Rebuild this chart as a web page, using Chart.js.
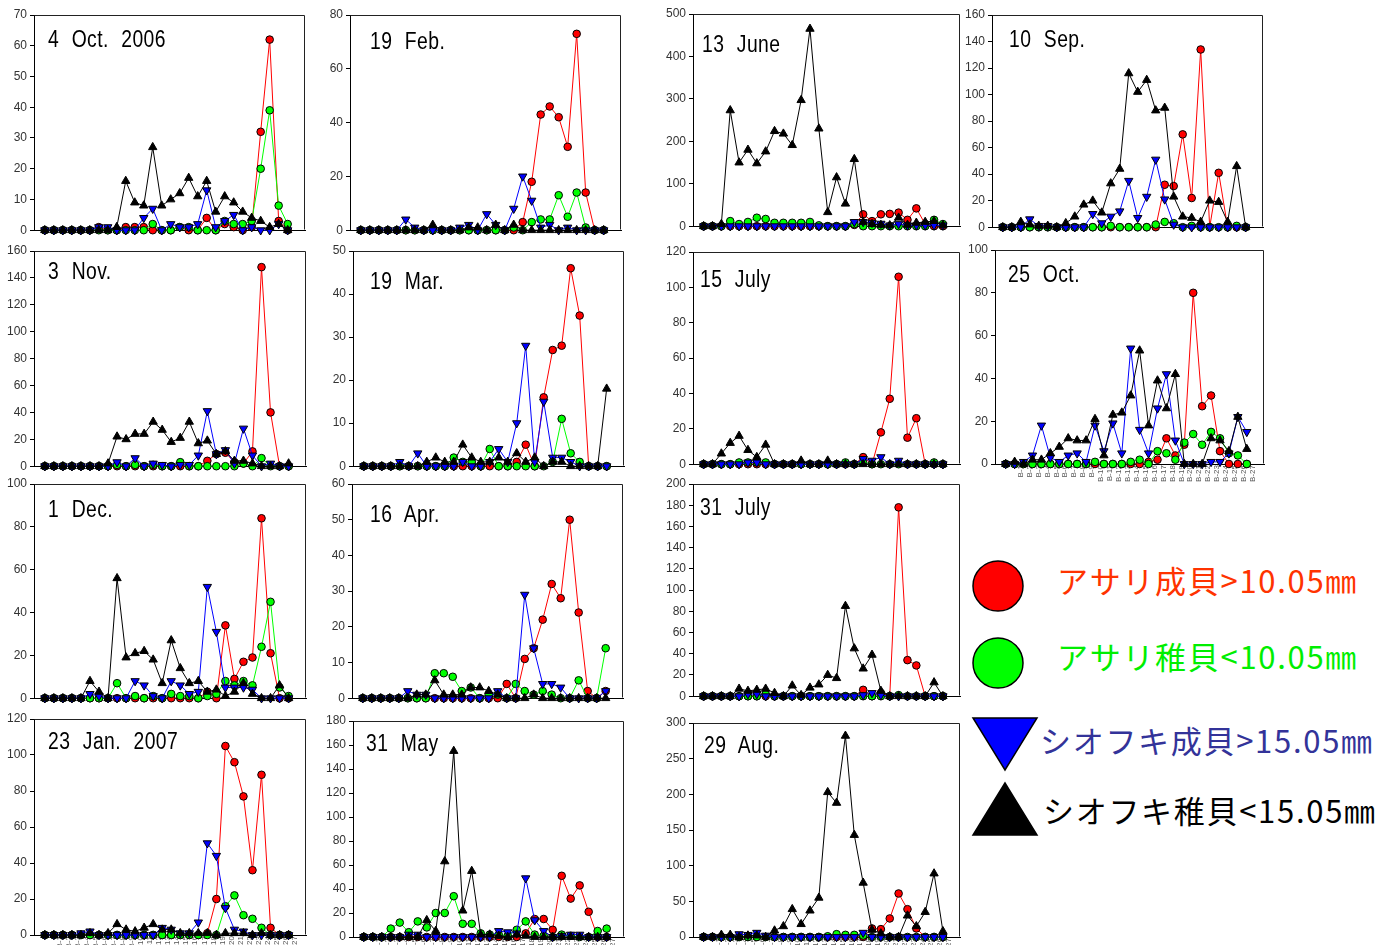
<!DOCTYPE html>
<html>
<head>
<meta charset="utf-8">
<script src="https://cdn.jsdelivr.net/npm/chart.js@4.4.1/dist/chart.umd.min.js"></script>
<style>
html,body{margin:0;padding:0;background:#fff;width:1395px;height:945px;overflow:hidden;position:relative;}
canvas{position:absolute;}
.ttl{position:absolute;font-family:"Liberation Sans",sans-serif;font-size:23px;line-height:23px;color:#000;white-space:pre;letter-spacing:0.5px;word-spacing:8px;transform:scaleX(0.84);transform-origin:0 0;}
.lg{position:absolute;font-family:"Noto Sans CJK JP",sans-serif;font-size:31px;line-height:31px;white-space:pre;letter-spacing:1.7px;}
#shapes{position:absolute;left:0;top:0;}
</style>
</head>
<body>
<svg id="shapes" width="1395" height="945">
  <circle cx="998" cy="586" r="25" fill="#FF0000" stroke="#000" stroke-width="1.5"/>
  <circle cx="998" cy="663" r="25" fill="#00FF00" stroke="#000" stroke-width="1.5"/>
  <polygon points="973,718 1037,718 1005,770" fill="#0000FF" stroke="#000" stroke-width="1.5"/>
  <polygon points="1005,783 973,835 1037,835" fill="#000" stroke="#000" stroke-width="1.5"/>
</svg>
<div class="lg" style="left:1057px;top:564px;color:#FF3300;">アサリ成貝&gt;10.05㎜</div>
<div class="lg" style="left:1057px;top:640px;color:#00EE00;">アサリ稚貝&lt;10.05㎜</div>
<div class="lg" style="left:1040px;top:724px;color:#333399;">シオフキ成貝&gt;15.05㎜</div>
<div class="lg" style="left:1043px;top:794px;color:#000;">シオフキ稚貝&lt;15.05㎜</div>
<script>
// station labels (index 0 is the extra first point)
const stations = ['', 'B-1','B-2','B-3','B-4','B-5','B-6','B-7','B-8','B-9','B-10','B-11','B-12','B-13','B-14','B-15','B-16','B-17','B-18','B-19','B-20','B-21','B-22','B-23','B-24','B-25','B-26','B-27'];

// series names
const seriesNames = ['アサリ成貝>10.05㎜', 'アサリ稚貝<10.05㎜', 'シオフキ成貝>15.05㎜', 'シオフキ稚貝<15.05㎜'];

// 4 Oct. 2006
const oct06_asariAdult = [0,0,0,0,0,0,1,0,0,1,1,1,0,0,0,1,0,0,4,0,2,1,0,1,32,62,3,0];
const oct06_asariJuv   = [0,0,0,0,0,0,0,0,0,0,0,0,2,0,0,1,1,0,0,0,3,2,2,3,20,39,8,2];
const oct06_shioAdult  = [0,0,0,0,0,0,1,1,0,0,0,4,7,0,2,1,1,2,13,1,3,5,0,1,0,0,2,0];
const oct06_shioJuv    = [0,0,0,0,0,0,0,0,1,16,9,8,27,8,10,12,17,11,16,6,11,9,6,4,3,1,2,0];
// 3 Nov.
const nov06_asariAdult = [0,0,0,0,0,0,0,0,0,0,0,0,0,0,0,0,0,0,4,9,10,3,2,11,148,40,0,0];
const nov06_asariJuv   = [0,0,0,0,0,0,0,0,1,0,1,0,1,0,0,3,0,0,0,0,0,0,2,0,6,0,0,0];
const nov06_shioAdult  = [0,0,0,0,0,0,0,0,3,0,6,0,2,1,0,1,1,8,41,9,12,2,28,8,0,2,0,0];
const nov06_shioJuv    = [0,0,0,0,0,0,0,2,22,20,24,24,33,27,18,21,33,17,19,9,11,4,4,2,0,0,0,2];
// 1 Dec.
const dec06_asariAdult = [0,0,0,0,0,0,0,0,0,0,0,0,0,0,0,0,0,0,3,0,34,9,17,19,84,21,0,0];
const dec06_asariJuv   = [0,0,0,0,0,0,0,0,7,0,1,0,1,0,2,1,1,0,1,2,8,6,8,6,24,45,5,1];
const dec06_shioAdult  = [0,0,0,0,0,2,1,0,0,0,8,6,1,0,8,6,2,3,52,31,5,5,5,4,0,0,0,0];
const dec06_shioJuv    = [0,0,0,0,0,8,3,0,56,19,21,22,18,7,27,14,7,8,3,4,1,3,7,2,0,0,6,0];
// 23 Jan. 2007
const jan07_asariAdult = [0,0,0,0,0,0,0,0,0,0,0,0,0,0,0,0,0,0,1,20,105,96,77,36,89,4,0,0];
const jan07_asariJuv   = [0,0,0,0,0,0,0,0,0,0,0,0,0,0,0,0,0,0,0,0,16,22,11,9,4,0,0,0];
const jan07_shioAdult  = [0,0,0,0,1,2,0,0,0,0,0,0,0,4,3,1,1,7,51,44,15,3,2,0,0,0,0,0];
const jan07_shioJuv    = [0,0,0,0,0,1,0,1,6,3,2,4,6,3,3,1,1,1,1,0,1,1,1,0,1,0,0,0];
// 19 Feb.
const feb07_asariAdult = [0,0,0,0,0,0,0,0,0,0,0,0,0,0,0,0,0,0,3,18,43,46,42,31,73,14,0,0];
const feb07_asariJuv   = [0,0,0,0,0,0,0,0,0,0,0,0,0,0,0,0,0,1,0,3,4,4,13,5,14,1,0,0];
const feb07_shioAdult  = [0,0,0,0,0,4,1,0,0,0,0,1,2,0,6,2,0,8,20,11,1,2,0,1,0,0,0,0];
const feb07_shioJuv    = [0,0,0,0,0,0,0,0,2,0,0,0,1,1,0,2,0,2,0,0,0,0,0,0,0,0,0,0];
// 19 Mar.
const mar07_asariAdult = [0,0,0,0,0,0,0,0,0,0,0,0,0,0,0,0,0,1,5,0,16,27,28,46,35,0,0,0];
const mar07_asariJuv   = [0,0,0,0,0,0,0,0,0,0,2,1,1,0,4,0,0,0,0,0,0,1,11,3,1,0,0,0];
const mar07_shioAdult  = [0,0,0,0,1,0,3,0,0,0,0,1,0,0,1,4,1,10,28,1,15,2,2,1,0,0,0,0];
const mar07_shioJuv    = [0,0,0,0,0,0,0,1,2,1,1,5,2,1,1,2,1,3,1,2,0,1,1,0,0,0,0,18];
// 16 Apr.
const apr07_asariAdult = [0,0,0,0,0,0,0,0,0,0,0,0,0,0,0,0,4,0,11,14,22,32,28,50,24,2,0,2];
const apr07_asariJuv   = [0,0,0,0,0,0,0,0,7,7,6,2,3,0,1,1,0,4,2,1,2,1,0,0,5,0,0,14];
const apr07_shioAdult  = [0,0,0,0,0,2,1,1,0,0,0,0,0,0,0,2,0,0,29,14,4,4,3,0,0,0,0,2];
const apr07_shioJuv    = [0,0,0,0,0,0,1,1,5,1,1,1,3,3,2,1,0,0,0,1,0,0,0,0,0,0,0,0];
// 31 May
const may07_asariAdult = [0,0,0,0,0,0,0,0,0,0,0,0,0,0,0,0,0,0,3,15,15,6,51,32,43,21,0,0];
const may07_asariJuv   = [0,0,0,7,12,4,13,8,20,20,34,11,11,3,2,2,1,6,13,2,1,0,2,1,0,0,5,7];
const may07_shioAdult  = [0,0,0,0,0,2,2,0,0,0,0,0,0,0,0,5,4,3,49,14,5,0,1,2,2,0,0,0];
const may07_shioJuv    = [0,0,0,0,0,0,0,14,5,63,155,22,55,2,2,1,0,2,1,0,0,0,0,0,0,0,0,0];
// 13 June
const jun07_asariAdult = [0,0,0,0,0,0,0,0,0,0,0,0,0,0,0,0,0,3,28,12,28,29,32,15,42,5,0,0];
const jun07_asariJuv   = [0,0,0,12,5,10,20,17,8,8,8,8,10,2,0,0,0,5,0,0,0,0,0,0,0,0,15,5];
const jun07_shioAdult  = [0,0,0,0,0,0,0,0,0,0,0,0,0,0,0,0,0,10,10,8,6,2,5,2,2,2,2,2];
const jun07_shioJuv    = [0,0,5,273,150,180,148,176,224,218,191,297,465,230,33,115,53,158,10,5,3,2,20,3,8,10,12,2];
// 15 July
const jul15_asariAdult = [0,0,0,0,0,0,0,0,0,0,0,0,0,0,0,0,0,0,4,0,18,37,106,15,26,0,0,0];
const jul15_asariJuv   = [0,0,0,0,1,1,1,1,0,0,0,0,0,0,0,0,1,0,1,0,0,0,0,0,0,0,1,0];
const jul15_shioAdult  = [0,0,0,0,0,1,1,0,0,0,0,0,0,0,0,0,0,0,3,2,4,0,2,0,0,0,0,0];
const jul15_shioJuv    = [0,0,6,12,16,8,4,11,0,0,0,2,0,0,2,0,0,0,0,0,0,0,0,0,0,0,0,0];
// 31 July
const jul31_asariAdult = [0,0,0,0,0,0,0,0,0,0,0,0,0,0,0,0,0,0,6,0,3,0,178,34,29,0,0,0];
const jul31_asariJuv   = [0,0,0,0,0,0,0,2,0,0,0,0,0,0,0,0,0,0,0,0,0,0,1,0,0,0,0,0];
const jul31_shioAdult  = [0,0,0,0,0,2,2,0,0,0,0,0,0,0,0,0,0,0,1,3,1,0,0,0,0,0,0,0];
const jul31_shioJuv    = [0,0,0,0,7,5,6,7,3,0,10,1,8,11,20,17,85,45,26,39,5,0,0,0,0,0,13,0];
// 29 Aug.
const aug07_asariAdult = [0,0,0,0,0,0,0,0,0,0,0,0,0,0,0,0,0,0,0,12,11,26,61,39,12,0,0,0];
const aug07_asariJuv   = [0,0,0,0,0,0,0,0,0,0,0,0,0,0,1,4,3,3,2,0,0,0,0,0,0,0,0,0];
const aug07_shioAdult  = [0,0,0,0,4,3,6,2,0,0,0,0,0,0,0,0,0,0,6,0,0,0,0,0,0,0,0,0];
const aug07_shioJuv    = [0,0,3,3,0,2,2,0,9,15,39,18,37,55,203,188,282,143,76,10,5,0,0,30,15,35,89,8];
// 10 Sep.
const sep07_asariAdult = [0,0,0,0,0,0,0,0,0,0,0,0,0,0,0,0,0,0,32,31,70,22,134,0,41,0,0,0];
const sep07_asariJuv   = [0,0,0,0,0,0,0,0,0,0,0,0,1,0,0,0,0,2,4,3,0,1,0,0,0,0,1,0];
const sep07_shioAdult  = [0,0,0,6,1,1,0,0,0,0,10,3,8,12,35,7,23,51,21,2,0,0,0,0,0,0,0,0];
const sep07_shioJuv    = [0,0,4,2,1,1,0,3,8,17,20,11,33,44,116,102,111,88,90,23,8,7,4,20,19,4,46,0];
// 25 Oct.
const oct07_asariAdult = [0,0,0,0,0,0,0,0,0,0,0,0,0,0,0,0,1,2,12,4,9,80,27,32,6,0,0,0];
const oct07_asariJuv   = [0,0,0,0,0,0,0,0,0,0,1,0,0,0,1,2,0,6,5,2,10,14,9,15,12,5,4,0];
const oct07_shioAdult  = [0,0,1,4,18,3,1,4,5,1,18,6,19,5,54,16,5,26,42,11,0,0,0,1,1,5,22,15];
const oct07_shioJuv    = [0,1,0,2,2,5,8,12,11,11,21,4,23,24,32,53,18,39,26,42,0,0,0,12,11,6,22,7];

// panel titles and y-axis ranges
const panelTitles = ['4 Oct. 2006','3 Nov.','1 Dec.','23 Jan. 2007','19 Feb.','19 Mar.','16 Apr.','31 May','13 June','15 July','31 July','29 Aug.','10 Sep.','25 Oct.'];
const yMaxes  = [70,160,100,120,80,50,60,180,500,120,200,300,160,100];
const ySteps  = [10,20,20,20,20,10,10,20,100,20,20,50,20,20];

const panelData = [
  [oct06_asariAdult, oct06_asariJuv, oct06_shioAdult, oct06_shioJuv],
  [nov06_asariAdult, nov06_asariJuv, nov06_shioAdult, nov06_shioJuv],
  [dec06_asariAdult, dec06_asariJuv, dec06_shioAdult, dec06_shioJuv],
  [jan07_asariAdult, jan07_asariJuv, jan07_shioAdult, jan07_shioJuv],
  [feb07_asariAdult, feb07_asariJuv, feb07_shioAdult, feb07_shioJuv],
  [mar07_asariAdult, mar07_asariJuv, mar07_shioAdult, mar07_shioJuv],
  [apr07_asariAdult, apr07_asariJuv, apr07_shioAdult, apr07_shioJuv],
  [may07_asariAdult, may07_asariJuv, may07_shioAdult, may07_shioJuv],
  [jun07_asariAdult, jun07_asariJuv, jun07_shioAdult, jun07_shioJuv],
  [jul15_asariAdult, jul15_asariJuv, jul15_shioAdult, jul15_shioJuv],
  [jul31_asariAdult, jul31_asariJuv, jul31_shioAdult, jul31_shioJuv],
  [aug07_asariAdult, aug07_asariJuv, aug07_shioAdult, aug07_shioJuv],
  [sep07_asariAdult, sep07_asariJuv, sep07_shioAdult, sep07_shioJuv],
  [oct07_asariAdult, oct07_asariJuv, oct07_shioAdult, oct07_shioJuv]
];

// layout (plot area rectangles: left, top, right, bottom) and title positions
const plotRects = [
  [34,15,307,232],[34,251,308,468],[34,484,308,700],[34,719,308,935],
  [350,15,623,232],[353,251,626,468],[352,484,625,700],[353,721,626,937],
  [693,14,962,228],[693,252,962,466],[693,484,962,698],[693,723,962,937],
  [992,15,1265,229],[995,250,1266,464]
];
const titlePos = [
  [48,47],[48,279],[48,517],[48,749],
  [370,49],[370,289],[370,522],[366,751],
  [702,52],[700,287],[700,515],[704,753],
  [1009,47],[1008,282]
];
const showXLabels = [false,false,false,true,false,false,false,true,false,false,false,true,false,true];

const colors = ['#FF0000','#00FF00','#0000FF','#000000'];
const styles = [
  {pointStyle:'circle', rotation:0, r:3.8},
  {pointStyle:'circle', rotation:0, r:3.8},
  {pointStyle:'triangle', rotation:180, r:4.8},
  {pointStyle:'triangle', rotation:0, r:4.8}
];
const drawOrder = [3,2,1,0];

const boxPlugin = {
  id:'box',
  beforeDatasetsDraw(chart){
    const a = chart.chartArea, ctx = chart.ctx;
    ctx.save();
    ctx.strokeStyle = '#222';
    ctx.lineWidth = 1;
    ctx.beginPath();
    ctx.moveTo(Math.round(a.left)+0.5, Math.round(a.top)+0.5);
    ctx.lineTo(Math.round(a.right)-0.5, Math.round(a.top)+0.5);
    ctx.lineTo(Math.round(a.right)-0.5, Math.round(a.bottom)-0.5);
    ctx.stroke();
    ctx.restore();
  }
};

const YW = 34, PT = 8, PR = 4;
panelTitles.forEach((title, p) => {
  const [L,T,R,B] = plotRects[p];
  const xh = showXLabels[p] ? 30 : 4;
  const cv = document.createElement('canvas');
  const w = R - L + YW + PR, h = B - T + PT + xh;
  cv.width = w; cv.height = h;
  cv.style.left = (L - YW) + 'px';
  cv.style.top = (T - PT) + 'px';
  cv.style.width = w + 'px'; cv.style.height = h + 'px';
  document.body.appendChild(cv);

  const datasets = panelData[p].map((vals, s) => ({
    label: seriesNames[s],
    data: vals.map((v, i) => ({x: i, y: v})),
    borderColor: colors[s],
    backgroundColor: colors[s],
    pointBackgroundColor: colors[s],
    pointBorderColor: '#000',
    pointBorderWidth: 1,
    pointStyle: styles[s].pointStyle,
    pointRotation: styles[s].rotation,
    pointRadius: styles[s].r,
    borderWidth: 1,
    tension: 0,
    clip: false,
    order: drawOrder[s]
  }));

  new Chart(cv, {
    type: 'line',
    data: {datasets},
    options: {
      responsive: false,
      animation: false,
      devicePixelRatio: 1,
      events: [],
      layout: {padding: {top: PT, right: PR, left: 0, bottom: 0}},
      plugins: {legend: {display: false}, tooltip: {enabled: false}, title: {display: false}},
      scales: {
        x: {
          type: 'linear', min: -1.2, max: 28.95,
          grid: {display: false, drawTicks: false},
          border: {display: true, color: '#000', width: 1},
          ticks: {
            display: showXLabels[p], stepSize: 1, maxTicksLimit: 100, autoSkip: false,
            minRotation: 90, maxRotation: 90, labelOffset: 6, padding: 1,
            font: {size: 8, family: 'Liberation Sans'}, color: '#555',
            callback: (v) => Number.isInteger(v) && v >= 0 ? (stations[v] || '') : ''
          },
          afterFit: (s) => { s.height = xh; s.paddingLeft = 0; s.paddingRight = 0; }
        },
        y: {
          min: 0, max: yMaxes[p],
          ticks: {stepSize: ySteps[p], font: {size: 12, family: 'Liberation Sans'}, color: '#333', padding: 3},
          grid: {drawOnChartArea: false, drawTicks: true, tickLength: 4, color: '#000'},
          border: {display: true, color: '#000', width: 1},
          afterFit: (s) => { s.width = YW; s.paddingTop = 0; s.paddingBottom = 0; }
        }
      }
    },
    plugins: [boxPlugin]
  });

  const t = document.createElement('div');
  t.className = 'ttl';
  t.textContent = title;
  t.style.left = titlePos[p][0] + 'px';
  t.style.top = (titlePos[p][1] - 19.5) + 'px';
  document.body.appendChild(t);
});
</script>
</body>
</html>
